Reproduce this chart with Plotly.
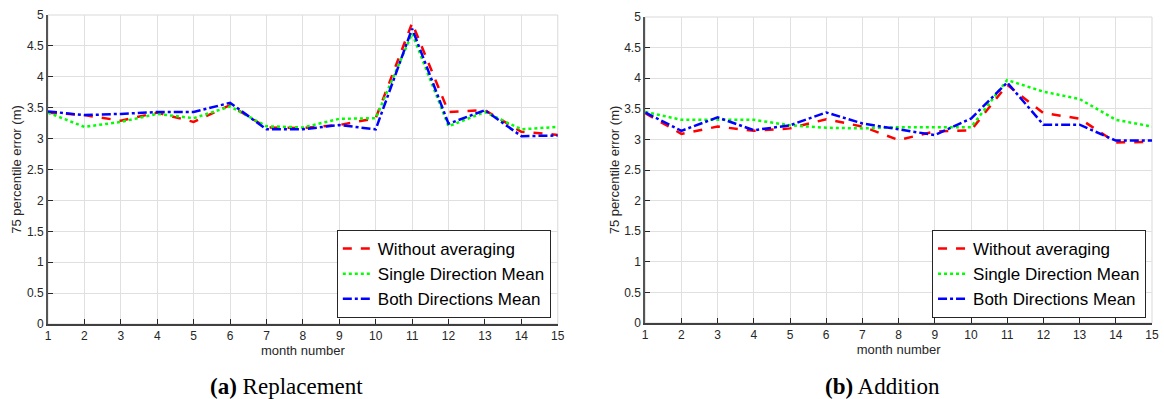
import plotly.graph_objects as go

months = list(range(1, 16))

# (a) Replacement
rep_without = [3.42, 3.38, 3.29, 3.42, 3.27, 3.54, 3.18, 3.17, 3.22, 3.33, 4.87, 3.43, 3.46, 3.11, 3.06]
rep_single  = [3.42, 3.19, 3.27, 3.40, 3.33, 3.52, 3.20, 3.18, 3.32, 3.33, 4.70, 3.20, 3.43, 3.15, 3.19]
rep_both    = [3.44, 3.38, 3.40, 3.43, 3.43, 3.58, 3.15, 3.15, 3.22, 3.15, 4.78, 3.24, 3.46, 3.04, 3.05]

# (b) Addition
add_without = [3.43, 3.09, 3.21, 3.14, 3.18, 3.33, 3.21, 2.99, 3.13, 3.15, 3.89, 3.43, 3.34, 2.95, 2.96]
add_single  = [3.45, 3.32, 3.32, 3.32, 3.23, 3.19, 3.18, 3.20, 3.20, 3.20, 3.97, 3.78, 3.66, 3.32, 3.21]
add_both    = [3.44, 3.14, 3.36, 3.15, 3.23, 3.44, 3.26, 3.17, 3.07, 3.34, 3.93, 3.24, 3.24, 2.98, 2.98]

series_names = ["Without averaging", "Single Direction Mean", "Both Directions Mean"]
y_ticks = [0, 0.5, 1, 1.5, 2, 2.5, 3, 3.5, 4, 4.5, 5]
y_ticklabels = ["0", "0.5", "1", "1.5", "2", "2.5", "3", "3.5", "4", "4.5", "5"]
x_ticks = months
captions = ["<b>(a)</b> Replacement", "<b>(b)</b> Addition"]

styles = [
    dict(color="#ff0000", dash="dash"),
    dict(color="#00ff00", dash="dot"),
    dict(color="#0000ff", dash="dashdot"),
]

fig = go.Figure()
panels = [(rep_without, rep_single, rep_both), (add_without, add_single, add_both)]
for p, data in enumerate(panels):
    xa = "x" if p == 0 else "x2"
    ya = "y" if p == 0 else "y2"
    lg = "legend" if p == 0 else "legend2"
    for name, vals, st in zip(series_names, data, styles):
        fig.add_trace(go.Scatter(
            x=months, y=vals, mode="lines", name=name,
            line=dict(color=st["color"], dash=st["dash"], width=2.5),
            xaxis=xa, yaxis=ya, legend=lg, showlegend=True,
        ))

tick_font = dict(family="Liberation Sans, Arial, sans-serif", size=12, color="#262626")
title_font = dict(family="Liberation Sans, Arial, sans-serif", size=13, color="#262626")
common_x = dict(
    range=[1, 15], tickmode="array", tickvals=x_ticks, ticks="inside", ticklen=5,
    tickcolor="#262626", showgrid=True, gridcolor="#e0e0e0", gridwidth=1,
    showline=True, linecolor="#404040", linewidth=1.5, mirror=False,
    tickfont=tick_font, zeroline=False,
    title=dict(text="month number", font=title_font, standoff=4),
)
common_y = dict(
    range=[0, 5], tickmode="array", tickvals=y_ticks, ticktext=y_ticklabels,
    ticks="inside", ticklen=5, tickcolor="#262626",
    showgrid=True, gridcolor="#e0e0e0", gridwidth=1,
    showline=True, linecolor="#555555", linewidth=2, mirror=False,
    tickfont=tick_font, zeroline=False,
    title=dict(text="75 percentile error (m)", font=title_font, standoff=2),
)

W, H = 1164, 399
ml, mr, mt, mb = 48, 5, 15, 75
pw = W - ml - mr
ph = H - mt - mb


def px(xp):
    return (xp - ml) / pw


def py(yp):
    return (H - mb - yp) / ph


legend_font = dict(family="Liberation Sans, Arial, sans-serif", size=17, color="black")

fig.update_layout(
    width=W, height=H,
    margin=dict(l=ml, r=mr, t=mt, b=mb),
    plot_bgcolor="white", paper_bgcolor="white",
    xaxis=dict(common_x, domain=[0, px(561)], anchor="y"),
    yaxis=dict(common_y, domain=[0, 1], anchor="x"),
    xaxis2=dict(common_x, domain=[px(649), 1.0], anchor="y2"),
    yaxis2=dict(common_y, domain=[py(323), py(17)], anchor="x2"),
    legend=dict(
        x=px(554), y=py(318), xref="paper", yref="paper",
        xanchor="right", yanchor="bottom",
        bgcolor="white", bordercolor="#262626", borderwidth=1,
        font=legend_font, tracegroupgap=0, itemwidth=30,
    ),
    legend2=dict(
        x=px(1153), y=py(318), xref="paper", yref="paper",
        xanchor="right", yanchor="bottom",
        bgcolor="white", bordercolor="#262626", borderwidth=1,
        font=legend_font, tracegroupgap=0, itemwidth=30,
    ),
    showlegend=True,
)

# frame (top/right borders)
for xr, yr in [("x domain", "y domain"), ("x2 domain", "y2 domain")]:
    fig.add_shape(type="rect", xref=xr, yref=yr, x0=0, x1=1, y0=0, y1=1,
                  line=dict(color="#d9d9d9", width=1), layer="below")

cap_x = [288, 888]
for cx, txt in zip(cap_x, captions):
    fig.add_annotation(
        text=txt, x=px(cx), y=py(386), xref="paper", yref="paper",
        xanchor="center", yanchor="middle", showarrow=False,
        font=dict(family="Liberation Serif, DejaVu Serif, serif", size=23, color="black"),
    )

fig.write_html("out.html")
